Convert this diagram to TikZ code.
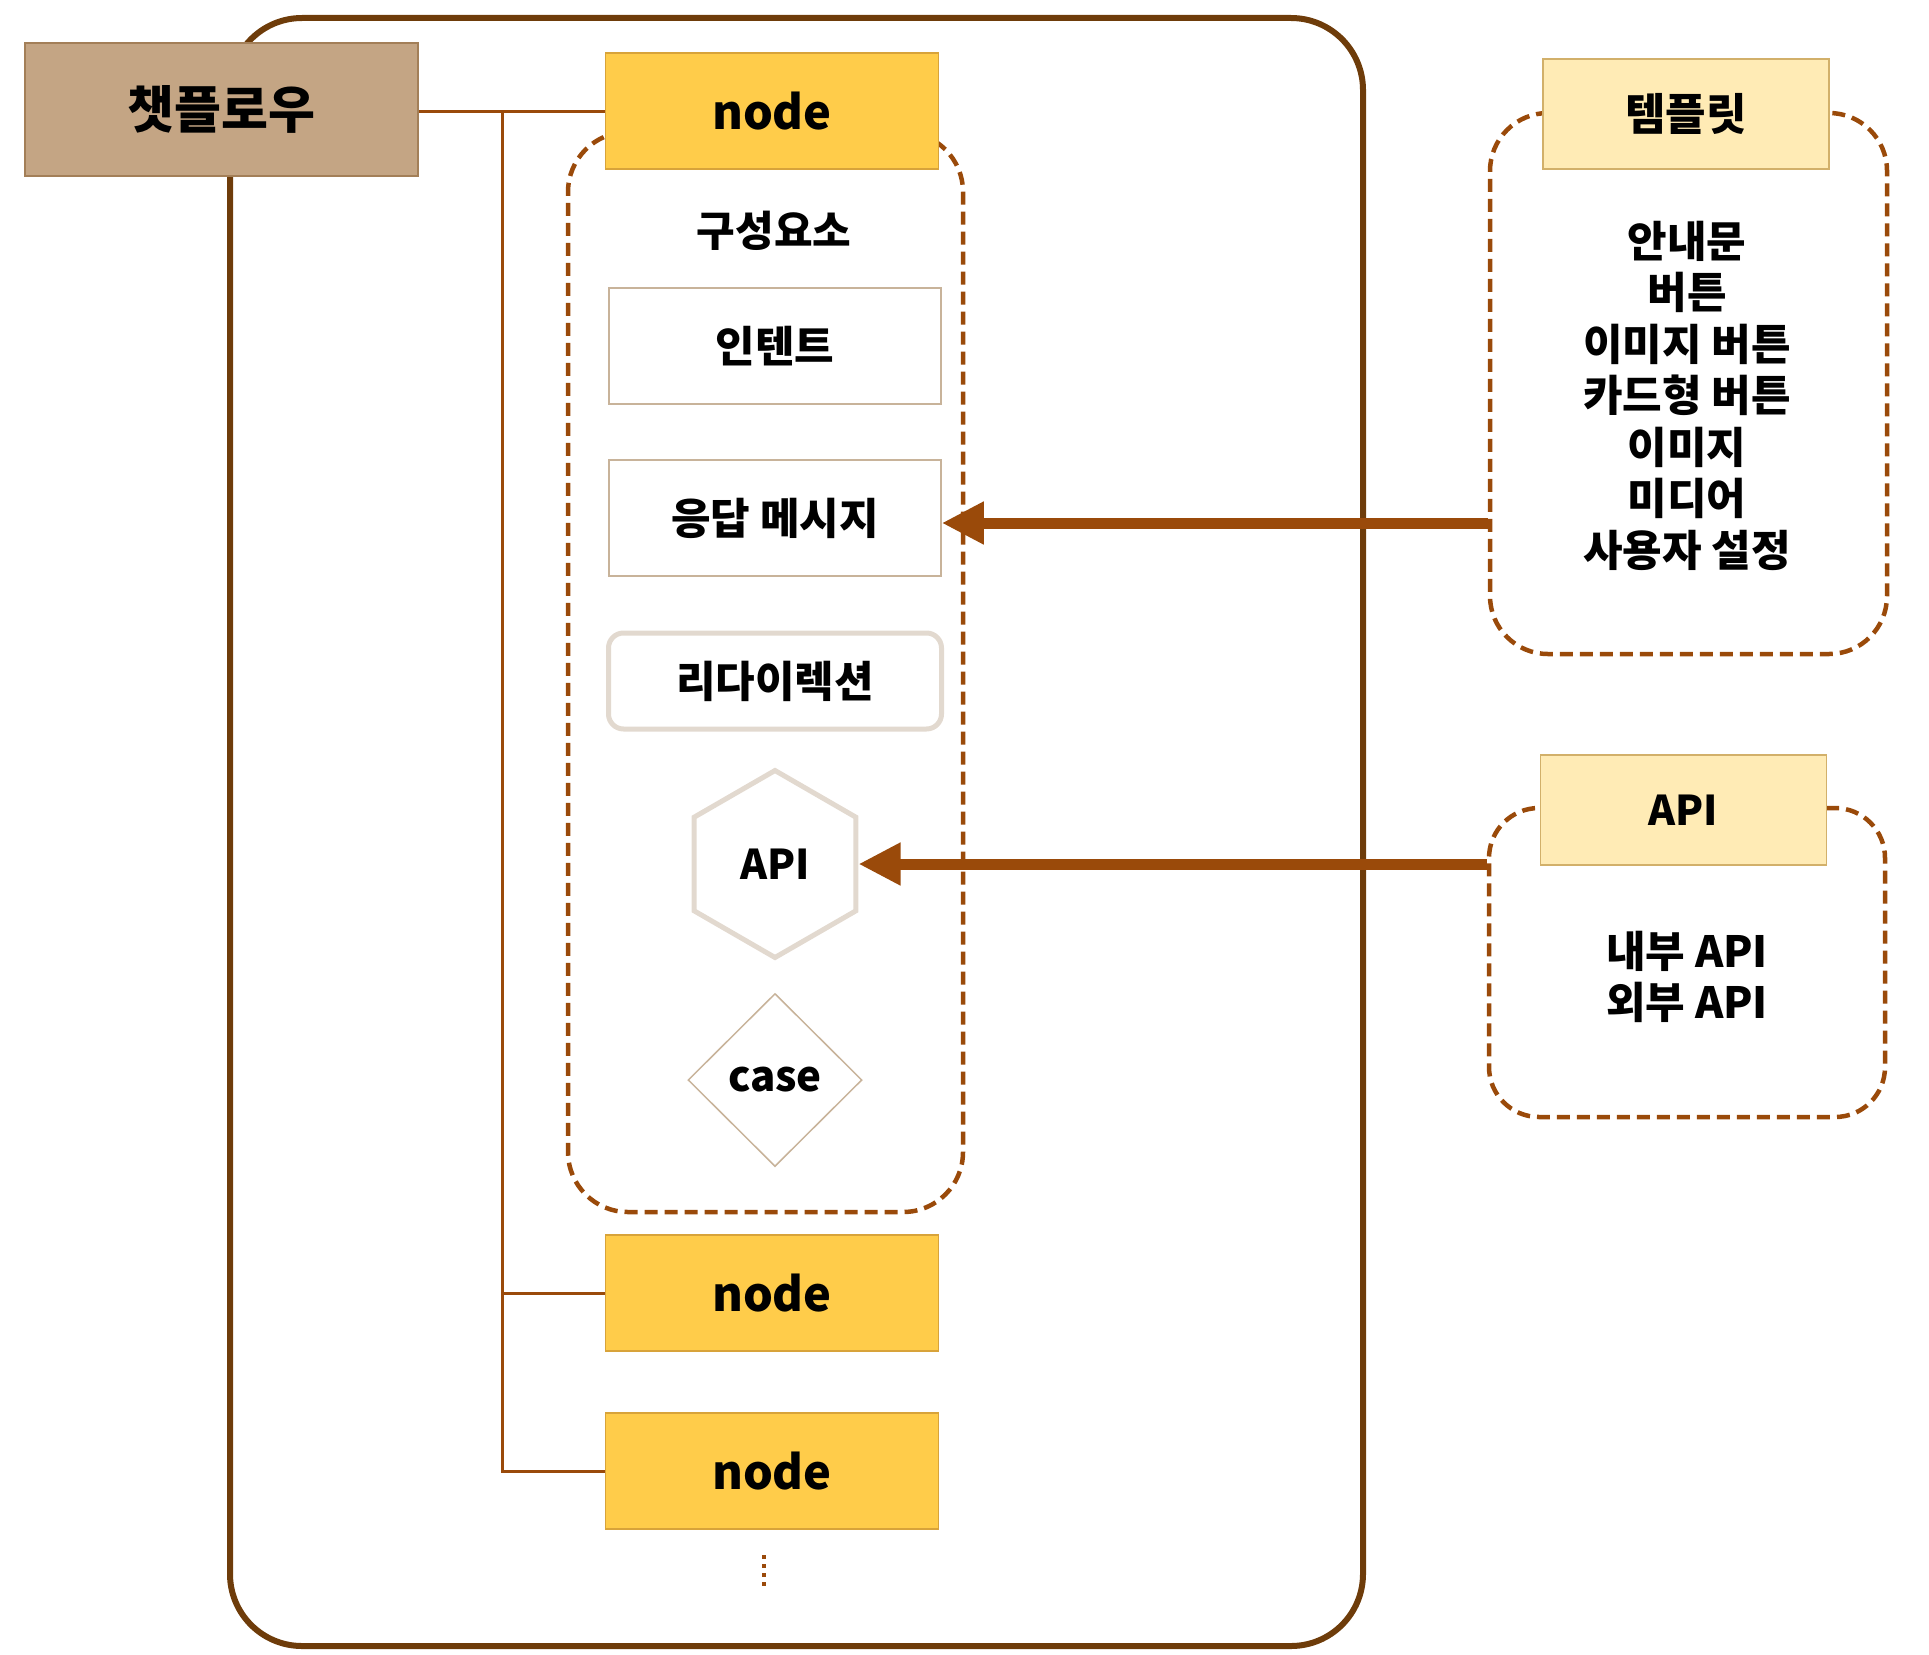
\documentclass[tikz,border=0pt]{standalone}
\usepackage{fontspec}
\setmainfont{Noto Sans CJK KR}
\usetikzlibrary{shapes.geometric,arrows.meta}
\definecolor{outerc}{HTML}{6E3C0A}
\definecolor{linec}{HTML}{9A4A0A}
\definecolor{chatfill}{HTML}{C4A584}
\definecolor{chatdraw}{HTML}{A37F58}
\definecolor{nodefill}{HTML}{FFCC4A}
\definecolor{nodedraw}{HTML}{D8A33A}
\definecolor{hdrfill}{HTML}{FFEBB5}
\definecolor{hdrdraw}{HTML}{D2B06A}
\definecolor{compdraw}{HTML}{C8B39A}
\definecolor{softdraw}{HTML}{E2D9CF}
\newcommand\myfs[2]{\fontsize{#1}{#2}\selectfont\bfseries}
\begin{document}
\begin{tikzpicture}[x=1pt,y=-1pt,
  outerbox/.style={draw=outerc, line width=6pt, rounded corners=72pt},
  conn/.style={draw=linec, line width=3pt},
  bigarrow/.style={draw=linec, line width=11pt, -{Triangle[length=42pt,width=40pt]}},
  dashbox/.style={draw=linec, line width=4.5pt, dash pattern=on 13pt off 7pt, inner sep=0pt},
  chatbox/.style={rectangle, fill=chatfill, draw=chatdraw, line width=1.5pt, inner sep=0pt, minimum width=393pt, minimum height=133pt, font=\myfs{51}{60}},
  nodebox/.style={rectangle, fill=nodefill, draw=nodedraw, line width=1.5pt, inner sep=0pt, minimum width=333pt, minimum height=116pt, font=\myfs{47}{56}},
  compbox/.style={rectangle, fill=white, draw=compdraw, line width=1.5pt, inner sep=0pt, minimum width=332pt, minimum height=116pt, font=\myfs{43}{50}},
  redirbox/.style={rectangle, rounded corners=15pt, fill=white, draw=softdraw, line width=5pt, inner sep=0pt, minimum width=333pt, minimum height=96pt, font=\myfs{43}{50}},
  hexnode/.style={regular polygon, regular polygon sides=6, shape border rotate=30, fill=white, draw=softdraw, line width=5pt, inner sep=0pt, minimum size=187pt, font=\myfs{41}{50}},
  diamondnode/.style={diamond, fill=white, draw=compdraw, line width=1.5pt, inner sep=0pt, minimum width=174pt, minimum height=173pt, font=\myfs{42}{50}},
  hdrbox/.style={rectangle, fill=hdrfill, draw=hdrdraw, line width=1.5pt, inner sep=0pt, minimum width=286pt, minimum height=110pt, font=\myfs{44}{50}},
  plaintext/.style={inner sep=0pt, align=center, font=\myfs{43}{51.5}}
]
\useasboundingbox (0,0) rectangle (1929,1654);

% outer frame
\draw[outerbox] (230,18) rectangle (1363,1646);

% chatflow and tree connectors
\node[chatbox] (chat) at (221.5,109.5) {챗플로우};
\node[nodebox] (n1) at (772,111) {};
\node[nodebox] (n2) at (772,1293) {node};
\node[nodebox] (n3) at (772,1471) {node};
\coordinate (trunk) at (502,111);
\draw[conn] (chat.east |- n1.west) -- (n1.west);
\draw[conn] (trunk) |- (n2.west);
\draw[conn] (trunk) |- (n3.west);

% components
\node[inner sep=0pt, font=\myfs{42}{50}] (comptitle) at (774,231) {구성요소};
\node[compbox] (intent) at (775,346) {인텐트};
\node[compbox] (resp) at (775,518) {응답 메시지};
\node[redirbox] (redir) at (775,681) {리다이렉션};
\node[hexnode] (hex) at (775,864) {API};
\node[diamondnode] (casen) at (775,1080) {case};

% right-hand groups (dashed frames)
\node[dashbox, rounded corners=58pt, minimum width=397pt, minimum height=541pt] (tplbox) at (1688.5,383.5) {};
\node[dashbox, rounded corners=50pt, minimum width=396pt, minimum height=309pt] (apibox) at (1687,962.5) {};

% arrows
\coordinate (respin) at ([yshift=-5pt]resp.east);
\draw[bigarrow] (respin -| tplbox.west) -- (respin);
\draw[bigarrow] (hex.east -| apibox.west) -- (hex.east);

% components dashed frame
\node[dashbox, rounded corners=60pt, minimum width=395pt, minimum height=1080pt] (compframe) at (765.5,672) {};

% node on top of frame
\node[nodebox] (n1b) at (772,111) {node};

% headers
\node[hdrbox] (tplhdr) at (1686,114) {템플릿};
\node[hdrbox, font=\myfs{41}{50}] (apihdr) at (1683.5,810) {API};

% lists
\node[plaintext] (tpllist) at (1687,395.5) {안내문\\버튼\\이미지 버튼\\카드형 버튼\\이미지\\미디어\\사용자 설정};
\node[plaintext] (apilist) at (1687,977) {내부 API\\외부 API};

% continuation dots
\draw[linec, line width=3.5pt, dash pattern=on 4pt off 5pt] (764,1555) -- (764,1590);
\end{tikzpicture}
\end{document}
